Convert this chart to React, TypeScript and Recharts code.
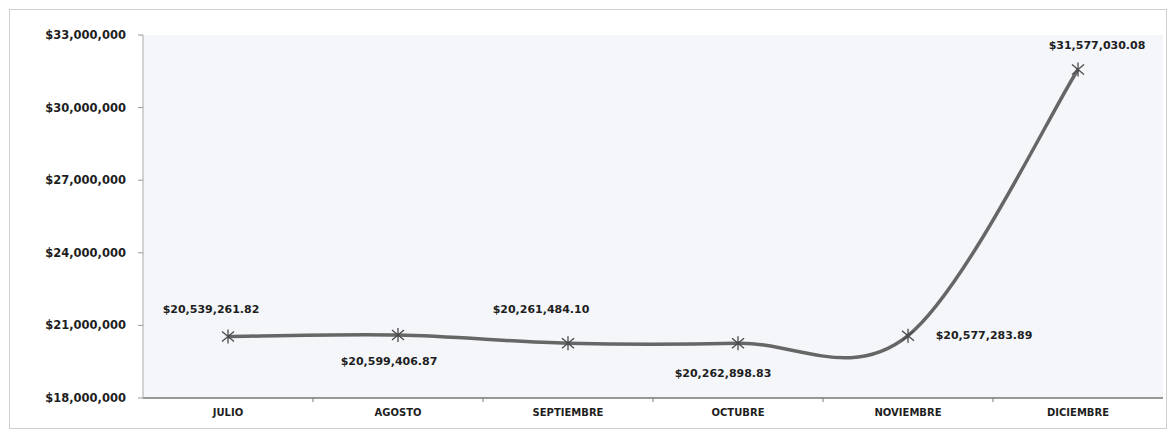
import React from "react";
import { LineChart, Line, XAxis, YAxis, CartesianGrid, LabelList } from "recharts";

const months = ["JULIO", "AGOSTO", "SEPTIEMBRE", "OCTUBRE", "NOVIEMBRE", "DICIEMBRE"];
const amounts = [20539261.82, 20599406.87, 20261484.1, 20262898.83, 20577283.89, 31577030.08];
const yTicks = [18000000, 21000000, 24000000, 27000000, 30000000, 33000000];

// label placement (offset of label centre from its point, in px)
const labelDx = [-17, -9, -27, -15, 76, 19];
const labelDy = [-27, 26, -34, 30, 0, -24];

const data = months.map((m, i) => ({ month: m, value: amounts[i] }));

const FONT = "'DejaVu Sans', Verdana, sans-serif";

const fmtMoney = (v: number, dec: number) =>
  "$" + v.toLocaleString("en-US", { minimumFractionDigits: dec, maximumFractionDigits: dec });

// Excel-like smoothed line (Catmull-Rom style bezier through every point)
function excelCurve(context: any) {
  let pts: [number, number][] = [];
  return {
    areaStart() {},
    areaEnd() {},
    lineStart() {
      pts = [];
    },
    lineEnd() {
      const n = pts.length;
      if (!n) return;
      context.moveTo(pts[0][0], pts[0][1]);
      const t = 1 / 6;
      for (let i = 0; i < n - 1; i++) {
        const p0 = pts[Math.max(0, i - 1)];
        const p1 = pts[i];
        const p2 = pts[i + 1];
        const p3 = pts[Math.min(n - 1, i + 2)];
        context.bezierCurveTo(
          p1[0] + (p2[0] - p0[0]) * t,
          p1[1] + (p2[1] - p0[1]) * t,
          p2[0] - (p3[0] - p1[0]) * t,
          p2[1] - (p3[1] - p1[1]) * t,
          p2[0],
          p2[1]
        );
      }
    },
    point(x: number, y: number) {
      pts.push([+x, +y]);
    },
  };
}

const StarDot = (props: any) => {
  const { cx, cy, index } = props;
  if (cx == null || cy == null) return null;
  return (
    <g key={"dot" + index} stroke="#4a4a4a" strokeWidth={1.3}>
      <line x1={cx - 6} y1={cy - 5} x2={cx + 6} y2={cy + 5} />
      <line x1={cx - 6} y1={cy + 5} x2={cx + 6} y2={cy - 5} />
      <line x1={cx} y1={cy - 7} x2={cx} y2={cy + 7} />
    </g>
  );
};

const renderLabel = (props: any) => {
  const { x, y, value, index } = props;
  return (
    <text
      x={x + labelDx[index]}
      y={y + labelDy[index]}
      textAnchor="middle"
      dominantBaseline="central"
      fontFamily={FONT}
      fontWeight="bold"
      fontSize={11}
      fill="#1e1e1e"
    >
      {fmtMoney(value, 2)}
    </text>
  );
};

const BAND = 1020 / 6;

const XTick = (props: any) => {
  const { x, y, payload, index } = props;
  return (
    <g>
      {index > 0 && (
        <line x1={x - BAND / 2} y1={y} x2={x - BAND / 2} y2={y + 4} stroke="#777" strokeWidth={1} />
      )}
      <text
        x={x}
        y={y + 14}
        textAnchor="middle"
        dominantBaseline="central"
        fontFamily={FONT}
        fontWeight="bold"
        fontSize={10}
        fill="#1e1e1e"
      >
        {payload.value}
      </text>
    </g>
  );
};

export default function App() {
  return (
    <div
      style={{
        position: "absolute",
        left: 9,
        top: 9,
        width: 1158,
        height: 420,
        border: "1px solid #cfcfcf",
        boxSizing: "border-box",
        background: "#ffffff",
      }}
    >
      <LineChart
        width={1156}
        height={418}
        data={data}
        margin={{ top: 25, right: 3, left: 0, bottom: 0 }}
      >
        <CartesianGrid horizontal={false} vertical={false} fill="#f4f6fa" />
        <XAxis
          dataKey="month"
          height={30}
          padding={{ left: BAND / 2, right: BAND / 2 }}
          axisLine={{ stroke: "#777", strokeWidth: 1.5 }}
          tickLine={false}
          tickSize={0}
          tickMargin={0}
          tick={<XTick />}
          interval={0}
        />
        <YAxis
          width={133}
          domain={[18000000, 33000000]}
          ticks={yTicks}
          allowDataOverflow
          axisLine={{ stroke: "#aaa", strokeWidth: 1 }}
          tickLine={{ stroke: "#999" }}
          tickSize={5}
          tickMargin={12}
          tickFormatter={(v: number) => fmtMoney(v, 0)}
          tick={{ fontFamily: FONT, fontWeight: "bold", fontSize: 11.5, fill: "#1e1e1e" }}
        />
        <Line
          dataKey="value"
          type={excelCurve as any}
          stroke="#666666"
          strokeWidth={3.5}
          dot={<StarDot />}
          activeDot={false}
          isAnimationActive={false}
        >
          <LabelList dataKey="value" content={renderLabel} />
        </Line>
      </LineChart>
    </div>
  );
}
